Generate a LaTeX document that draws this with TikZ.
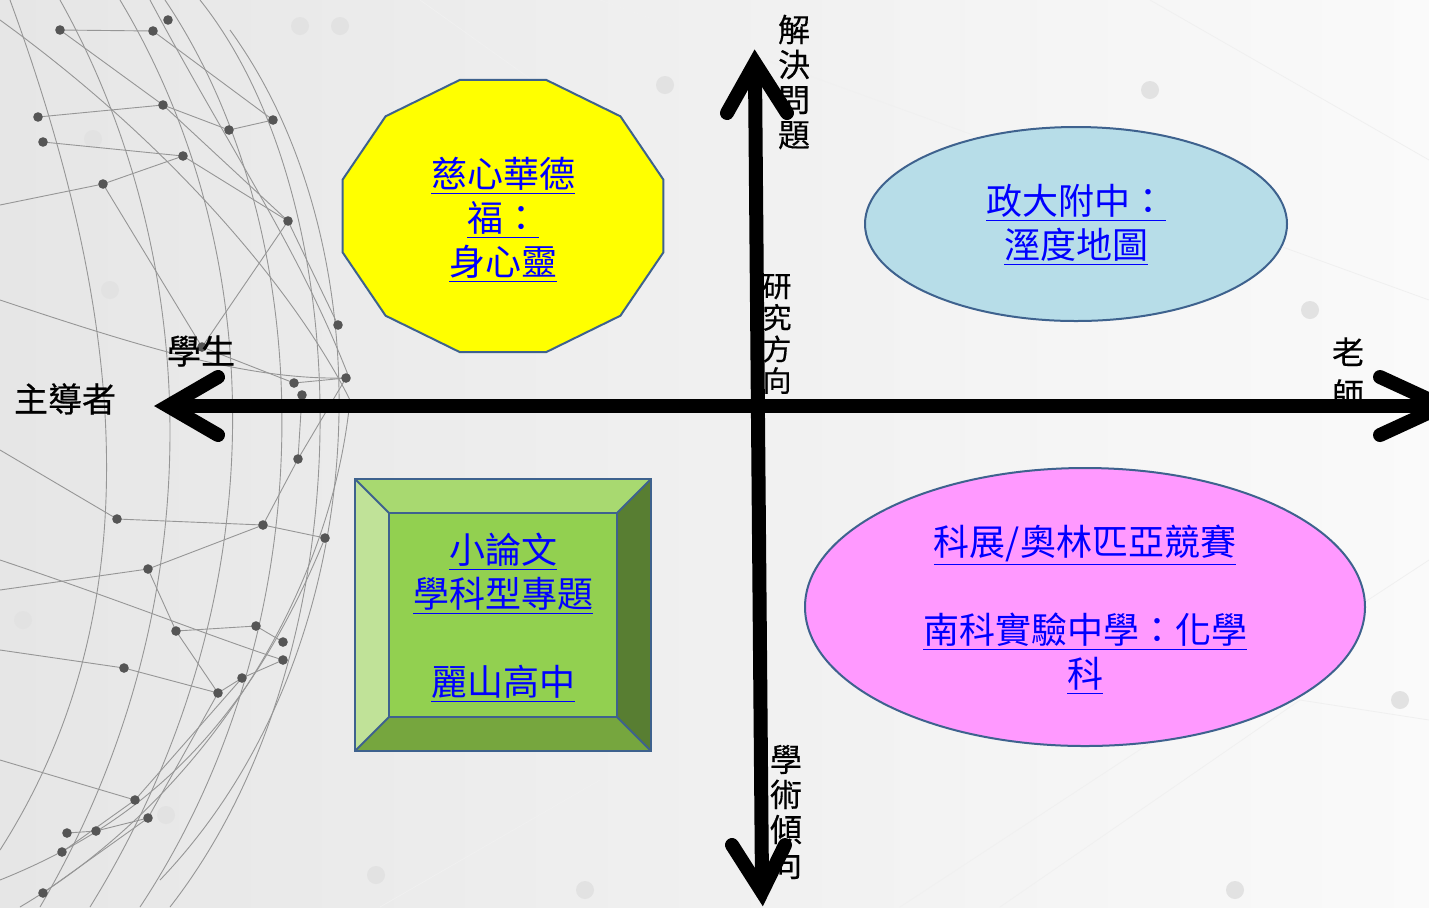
\documentclass[tikz,border=0pt]{standalone}
\usepackage{fontspec}
\setmainfont{Noto Sans CJK TC}
\newfontfamily\medfont[FakeBold=0.6]{Noto Sans CJK TC}
\newfontfamily\semifont[FakeBold=0.3]{Noto Sans CJK TC}
\usetikzlibrary{calc,shapes.geometric}
\definecolor{edgeblue}{RGB}{62,98,142}
\definecolor{bgleft}{RGB}{230,230,230}
\definecolor{bgright}{RGB}{250,250,250}
\definecolor{polyfill}{RGB}{255,255,0}
\definecolor{lightblue}{RGB}{183,221,232}
\definecolor{pinkfill}{RGB}{255,153,255}
\definecolor{bevtop}{RGB}{168,217,112}
\definecolor{bevleft}{RGB}{192,226,152}
\definecolor{bevright}{RGB}{88,126,50}
\definecolor{bevbottom}{RGB}{118,166,62}
\definecolor{bevcenter}{RGB}{146,208,80}
\definecolor{linkblue}{RGB}{0,0,255}
\definecolor{netline}{RGB}{150,150,150}
\definecolor{netdot}{RGB}{85,85,85}
\definecolor{faintdot}{RGB}{226,226,226}
\tikzset{
  shapeedge/.style={draw=edgeblue,line width=1pt},
  bluetext/.style={text=linkblue,align=center,inner sep=0pt,font=\fontsize{18pt}{22pt}\selectfont},
  axislabel/.style={align=center,inner sep=0pt,font=\semifont\fontsize{16pt}{17.5pt}\selectfont},
  sidelabel/.style={align=center,inner sep=0pt,font=\medfont\fontsize{17pt}{20pt}\selectfont},
  axisline/.style={line width=7pt,black},
  chevron/.style={line width=7pt,black,line cap=round,line join=miter},
  netcurve/.style={draw=netline,line width=0.45pt},
  netdotstyle/.style={fill=netdot},
}
\begin{document}
\begin{tikzpicture}[x=0.5pt,y=-0.5pt]
\useasboundingbox (0,0) rectangle (1429,907);
\begin{scope}
\clip (0,0) rectangle (1429,907);
% background
\shade[left color=bgleft,right color=bgright] (0,0) rectangle (1429,907);
% faint background network on the right
\begin{scope}[draw=black!6,line width=0.4pt]
\draw (600,0) -- (1429,300);
\draw (900,907) -- (1429,560);
\draw (1150,0) -- (1429,160);
\draw (1000,907) -- (1300,700) -- (1429,720);
\draw (420,0) -- (700,200);
\draw (380,907) -- (600,780);
\end{scope}
\foreach \p in {(300,26),(340,26),(110,290),(93,139),(23,620),(166,815),(376,875),(1310,310),(1400,700),(585,890),(1235,890),(665,85),(1150,90)}
  \fill[faintdot] \p circle[radius=4.5pt];
% globe meridians
\draw[netcurve] (10,0) .. controls (120,300) and (160,600) .. (0,850);
\draw[netcurve] (60,0) .. controls (200,250) and (220,600) .. (40,907);
\draw[netcurve] (120,0) .. controls (270,250) and (280,600) .. (90,907);
\draw[netcurve] (165,0) .. controls (320,230) and (330,620) .. (140,907);
\draw[netcurve] (200,0) .. controls (360,200) and (370,650) .. (170,907);
\draw[netcurve] (230,30) .. controls (390,250) and (380,650) .. (160,880);
\draw[netcurve] (150,0) .. controls (230,150) and (300,250) .. (350,380);
\draw[netcurve] (0,20) .. controls (180,150) and (300,300) .. (350,400) .. controls (330,600) and (200,800) .. (20,907);
\draw[netcurve] (0,300) .. controls (150,350) and (250,380) .. (346,378);
\draw[netcurve] (0,560) .. controls (120,600) and (220,640) .. (283,660);
\draw[netcurve] (0,880) .. controls (150,820) and (250,720) .. (325,538);
% globe links
\begin{scope}[netcurve]
\draw (60,30) -- (153,31) -- (273,120);
\draw (60,30) -- (163,105) -- (288,221);
\draw (38,117) -- (163,105) -- (229,130) -- (273,120);
\draw (43,142) -- (183,156) -- (288,221) -- (338,325);
\draw (0,205) -- (103,184) -- (183,156);
\draw (103,184) -- (202,347) -- (294,383);
\draw (202,347) -- (288,221);
\draw (294,383) -- (346,378) -- (298,459) -- (302,395);
\draw (0,450) -- (117,519) -- (263,525) -- (325,538);
\draw (148,569) -- (263,525) -- (298,459);
\draw (0,590) -- (148,569) -- (176,631) -- (256,626) -- (283,642);
\draw (176,631) -- (218,693) -- (242,678) -- (283,660);
\draw (0,650) -- (124,668) -- (218,693);
\draw (135,800) -- (242,678);
\draw (67,833) -- (96,831) -- (148,818) -- (218,693);
\draw (62,852) -- (135,800);
\draw (43,893) -- (148,818);
\draw (0,760) -- (135,800);
\end{scope}
\foreach \p in {(60,30),(153,31),(168,20),(38,117),(43,142),(163,105),(183,156),(103,184),(229,130),(273,120),(288,221),(338,325),(346,378),(294,383),(302,395),(298,459),(202,347),(117,519),(263,525),(325,538),(148,569),(176,631),(256,626),(283,642),(283,660),(124,668),(242,678),(218,693),(135,800),(148,818),(67,833),(96,831),(62,852),(43,893)}
  \fill[netdotstyle] \p circle[radius=2.4pt];
\end{scope}

% dodecagon
\filldraw[shapeedge,fill=polyfill] (663.3,179.5) -- (620.4,116.3) -- (546,79.8) -- (460,79.8) -- (385.6,116.3) -- (342.7,179.5) -- (342.7,252.5) -- (385.6,315.7) -- (460,352.2) -- (546,352.2) -- (620.4,315.7) -- (663.3,252.5) -- cycle;
\node[bluetext] (ciji) at (503,219.5) {\underline{慈心華德}\\\underline{福：}\\\underline{身心靈}};

% bevel box
\fill[bevtop] (355,479) -- (651,479) -- (617,513) -- (389,513) -- cycle;
\fill[bevleft] (355,479) -- (389,513) -- (389,717) -- (355,751) -- cycle;
\fill[bevright] (651,479) -- (651,751) -- (617,717) -- (617,513) -- cycle;
\fill[bevbottom] (355,751) -- (651,751) -- (617,717) -- (389,717) -- cycle;
\fill[bevcenter] (389,513) rectangle (617,717);
\draw[shapeedge] (355,479) rectangle (651,751);
\draw[shapeedge] (389,513) rectangle (617,717);
\draw[shapeedge] (355,479) -- (389,513) (651,479) -- (617,513) (355,751) -- (389,717) (651,751) -- (617,717);
\node[bluetext] (lishan) at (503,618) {\underline{小論文}\\\underline{學科型專題}\\\mbox{}\\\underline{麗山高中}};

% light blue ellipse
\node[ellipse,shapeedge,fill=lightblue,minimum width=211pt,minimum height=97pt,inner sep=0pt] (zhengda) at (1076,224) {};
\node[bluetext] (zhengdatext) at (1076,225) {\underline{政大附中：}\\\underline{溼度地圖}};

% pink ellipse
\node[ellipse,shapeedge,fill=pinkfill,minimum width=280pt,minimum height=139pt,inner sep=0pt] (nanke) at (1085,607) {};
\node[bluetext] (nanketext) at (1085,609.5) {\underline{科展/奧林匹亞競賽}\\\mbox{}\\\underline{南科實驗中學：化學}\\\underline{科}};

% axis labels (drawn before axes so the arrows cover them)
\node[axislabel] (solve) at (794,82) {解\\決\\問\\題};
\node[axislabel,font=\semifont\fontsize{14.5pt}{15.8pt}\selectfont] (direction) at (777,334) {研\\究\\方\\向};
\node[axislabel] (academic) at (786,812) {學\\術\\傾\\向};
\node[axislabel,font=\semifont\fontsize{16pt}{21pt}\selectfont] (teacher) at (1348,373) {老\\師};
\node[sidelabel] (student) at (201,351) {學生};
\node[sidelabel] (leader) at (65,399) {主導者};

% axes
\coordinate (L) at (168,406);
\coordinate (R) at (1443,406);
\coordinate (T) at (755,63);
\coordinate (B) at (762,892);
\begin{scope}
\clip (0,0) rectangle (1429,907);
\draw[axisline] ($(L)+(6,0)$) -- ($(R)+(-6,0)$);
\draw[axisline] ($(T)+(0,8)$) -- ($(B)+(0,-8)$);
\draw[chevron] ($(L)+(50,-29)$) -- (L) -- ($(L)+(50,29)$);
\draw[chevron] ($(R)+(-63,-29)$) -- (R) -- ($(R)+(-63,29)$);
\draw[chevron] ($(T)+(-28,50)$) -- (T) -- ($(T)+(32,50)$);
\draw[chevron] ($(B)+(-30,-47)$) -- (B) -- ($(B)+(23,-47)$);
\end{scope}
\end{tikzpicture}
\end{document}
